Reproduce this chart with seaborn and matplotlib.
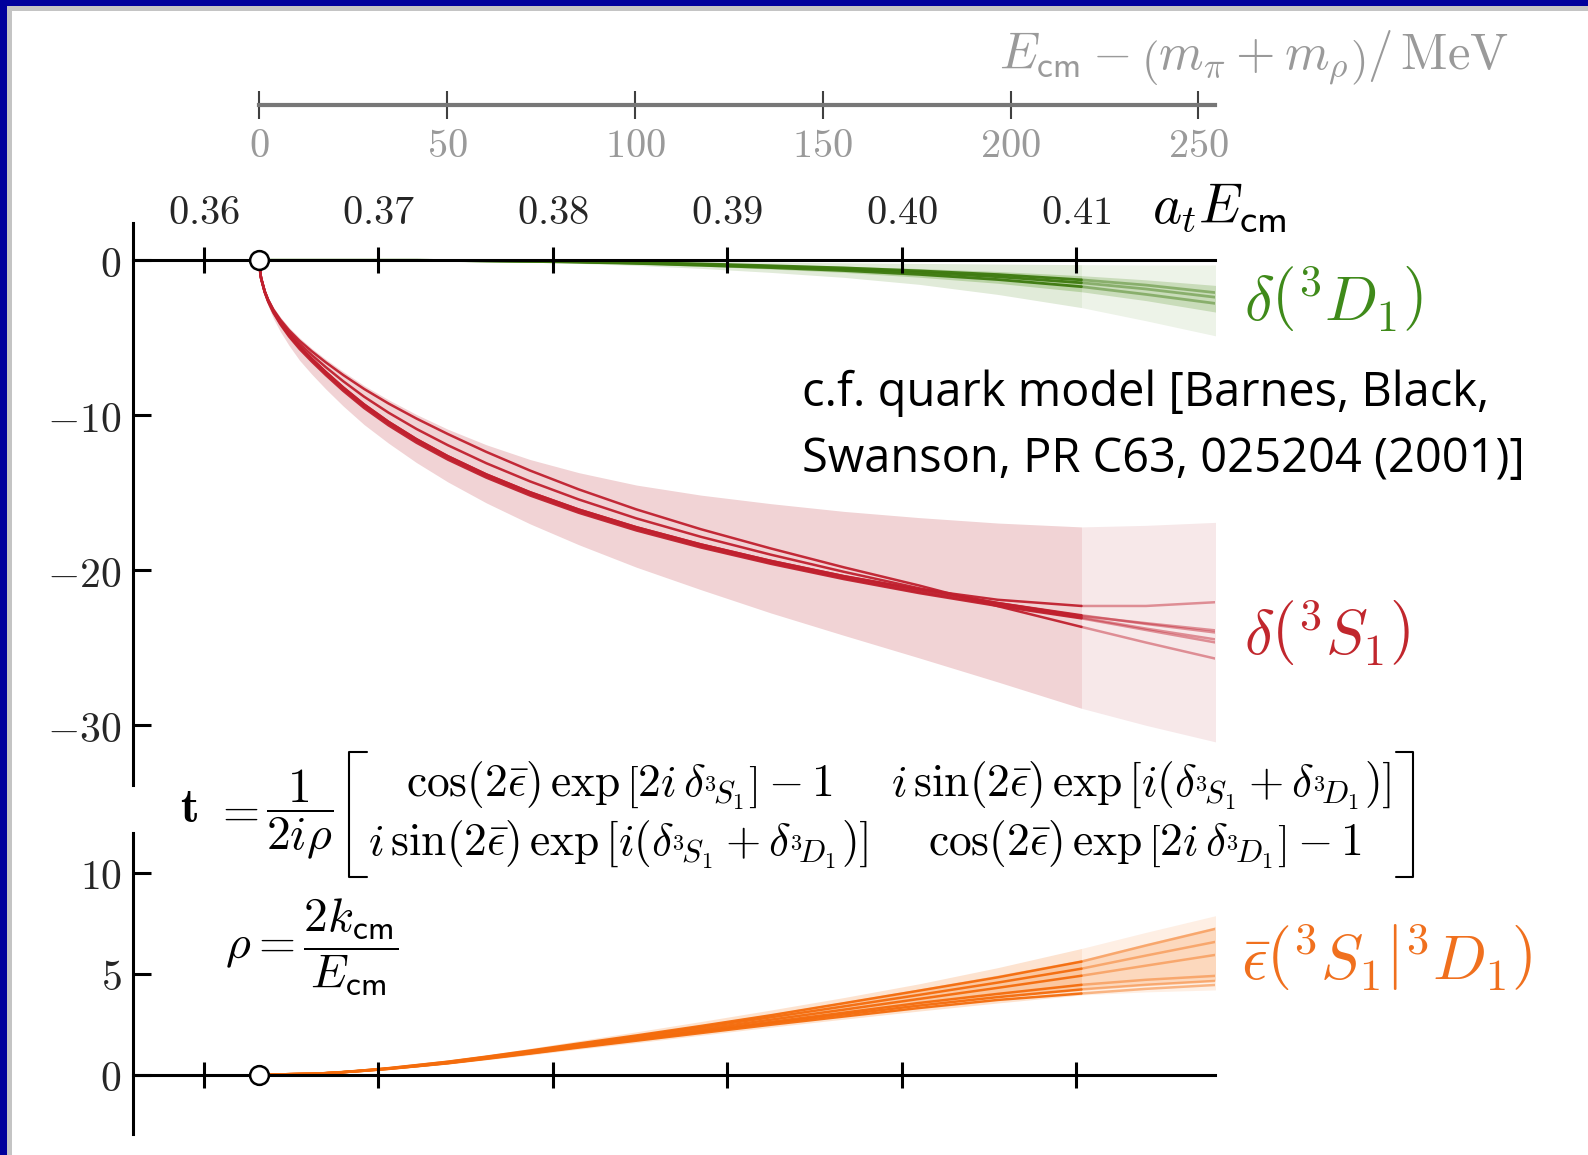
import numpy as np
import matplotlib
matplotlib.use("Agg")
import matplotlib.pyplot as plt
from matplotlib.lines import Line2D
from matplotlib.patches import Rectangle
import seaborn as sns

# ---------------- data ----------------
energy = [0.3632, 0.36325, 0.3633, 0.3635, 0.3637, 0.3640, 0.3644, 0.3649, 0.3655, 0.3662,
          0.3670, 0.3680, 0.3692, 0.3706, 0.3722, 0.3740, 0.3762, 0.3787, 0.3815, 0.3848,
          0.3885, 0.3925, 0.3967, 0.4010, 0.4055, 0.4103, 0.4140, 0.4181]
threshold = 0.3632
fit_edge = 0.4103
mev_per_at = 4646.7

at_ticks = [0.36, 0.37, 0.38, 0.39, 0.40, 0.41]
at_labels = ["0.36", "0.37", "0.38", "0.39", "0.40", "0.41"]
mev_ticks = [0, 50, 100, 150, 200, 250]
mev_labels = ["0", "50", "100", "150", "200", "250"]
top_yticks = [0, -10, -20, -30]
bot_yticks = [0, 5, 10]

# delta(3S1) in degrees
s1_a = [0, -0.82, -1.16, -1.98, -2.54, -3.18, -3.83, -4.51, -5.19, -5.87, -6.58, -7.4, -8.3, -9.24,
        -10.21, -11.21, -12.36, -13.56, -14.78, -16.07, -17.35, -18.59, -19.81, -20.98, -22.31, -23.65, -24.66, -25.73]
s1_b = [0, -0.82, -1.16, -1.99, -2.57, -3.23, -3.92, -4.65, -5.38, -6.11, -6.89, -7.8, -8.8, -9.83,
        -10.88, -11.93, -13.09, -14.26, -15.43, -16.65, -17.84, -18.99, -20.1, -21.16, -22.11, -22.95, -23.41, -23.89]
s1_c = [0, -0.82, -1.16, -2.0, -2.59, -3.28, -4.01, -4.78, -5.56, -6.35, -7.2, -8.2, -9.3, -10.42,
        -11.54, -12.64, -13.81, -14.96, -16.08, -17.22, -18.33, -19.39, -20.38, -21.22, -21.9, -22.3, -22.3, -22.05]
s1_d = [0, -0.82, -1.16, -2.0, -2.59, -3.28, -4.01, -4.78, -5.56, -6.35, -7.2, -8.2, -9.3, -10.42,
        -11.54, -12.64, -13.81, -14.96, -16.08, -17.22, -18.33, -19.39, -20.38, -21.28, -22.11, -22.9, -23.46, -24.03]
s1_e = [0, -0.83, -1.18, -2.03, -2.63, -3.33, -4.07, -4.85, -5.64, -6.44, -7.3, -8.31, -9.42, -10.54,
        -11.66, -12.76, -13.93, -15.08, -16.2, -17.34, -18.45, -19.51, -20.5, -21.4, -22.23, -23.05, -23.76, -24.48]
s1_f = [0, -0.84, -1.2, -2.06, -2.67, -3.38, -4.13, -4.92, -5.72, -6.53, -7.4, -8.42, -9.53, -10.65,
        -11.77, -12.86, -14.02, -15.17, -16.29, -17.43, -18.53, -19.58, -20.57, -21.47, -22.3, -23.1, -23.85, -24.68]
s1_band_hi = [0, -0.75, -1.08, -1.88, -2.42, -3.03, -3.66, -4.33, -5.0, -5.68, -6.38, -7.18, -8.08, -9.0,
              -9.95, -10.9, -11.9, -12.85, -13.7, -14.5, -15.15, -15.7, -16.2, -16.6, -16.95, -17.2, -17.1, -16.9]
s1_band_lo = [0, -0.95, -1.35, -2.3, -2.95, -3.75, -4.6, -5.5, -6.45, -7.35, -8.3, -9.4, -10.6, -11.8,
              -13.05, -14.3, -15.65, -17.0, -18.35, -19.8, -21.25, -22.75, -24.2, -25.65, -27.2, -28.9, -30.0, -31.1]

# delta(3D1) in degrees
d1_a = [0, 0, 0, 0, 0, 0, 0, 0, 0, 0, 0, 0, 0, 0, 0,
        -0.01, -0.03, -0.06, -0.1, -0.17, -0.27, -0.4, -0.56, -0.78, -1.06, -1.45, -1.85, -2.4]
d1_b = [0, 0, 0, 0, 0, 0, 0, 0, 0, 0, 0, 0, 0, 0, 0,
        -0.01, -0.04, -0.07, -0.12, -0.2, -0.32, -0.47, -0.66, -0.91, -1.24, -1.7, -2.2, -2.8]
d1_c = [0, 0, 0, 0, 0, 0, 0, 0, 0, 0, 0, 0, 0, 0, 0,
        -0.01, -0.03, -0.05, -0.09, -0.15, -0.23, -0.35, -0.49, -0.68, -0.92, -1.26, -1.6, -2.1]
d1_in_hi = [0, 0, 0, 0, 0, 0, 0, 0, 0, 0, 0, 0, 0, 0, 0,
            -0.01, -0.02, -0.04, -0.07, -0.12, -0.18, -0.27, -0.38, -0.53, -0.72, -0.99, -1.26, -1.63]
d1_in_lo = [0, 0, 0, 0, 0, 0, 0, 0, 0, 0, 0, 0, 0, 0, 0,
            -0.01, -0.04, -0.08, -0.14, -0.24, -0.38, -0.56, -0.78, -1.09, -1.48, -2.03, -2.6, -3.36]
d1_out_hi = [0, 0, 0, 0, 0, 0, 0, 0, 0, 0, 0, 0, 0, 0, 0,
             0, -0.01, -0.02, -0.03, -0.05, -0.08, -0.12, -0.16, -0.2, -0.24, -0.28, -0.3, -0.3]
d1_out_lo = [0, 0, 0, 0, 0, 0, 0, 0, 0, 0, 0, 0, 0, 0, 0,
             -0.02, -0.06, -0.12, -0.2, -0.33, -0.52, -0.78, -1.1, -1.55, -2.2, -3.05, -3.9, -4.9]

# mixing angle epsilon-bar in degrees
ep_a = [0, 0, 0, 0, 0, 0.01, 0.01, 0.02, 0.03, 0.04, 0.07, 0.13, 0.21, 0.32,
        0.47, 0.64, 0.89, 1.19, 1.54, 1.94, 2.41, 2.94, 3.54, 4.16, 4.82, 5.6, 6.4, 7.25]
ep_b = [0, 0, 0, 0, 0, 0.01, 0.01, 0.02, 0.03, 0.04, 0.07, 0.12, 0.21, 0.31,
        0.46, 0.63, 0.87, 1.16, 1.5, 1.89, 2.34, 2.84, 3.38, 3.95, 4.56, 5.25, 5.9, 6.6]
ep_c = [0, 0, 0, 0, 0, 0.01, 0.01, 0.02, 0.03, 0.04, 0.07, 0.12, 0.2, 0.3,
        0.44, 0.6, 0.84, 1.12, 1.45, 1.82, 2.25, 2.72, 3.22, 3.75, 4.3, 4.9, 5.4, 5.95]
ep_d = [0, 0, 0, 0, 0, 0.01, 0.01, 0.02, 0.03, 0.04, 0.07, 0.12, 0.19, 0.29,
        0.42, 0.58, 0.81, 1.08, 1.4, 1.76, 2.17, 2.61, 3.07, 3.55, 4.0, 4.45, 4.7, 4.9]
ep_e = [0, 0, 0, 0, 0, 0.01, 0.01, 0.02, 0.03, 0.04, 0.07, 0.12, 0.19, 0.29,
        0.42, 0.57, 0.8, 1.06, 1.37, 1.72, 2.12, 2.55, 2.98, 3.42, 3.84, 4.22, 4.45, 4.65]
ep_f = [0, 0, 0, 0, 0, 0.01, 0.01, 0.02, 0.03, 0.04, 0.07, 0.12, 0.19, 0.28,
        0.41, 0.56, 0.78, 1.04, 1.34, 1.68, 2.06, 2.47, 2.88, 3.3, 3.7, 4.02, 4.25, 4.45]
ep_in_hi = [0, 0, 0, 0, 0, 0.01, 0.01, 0.02, 0.03, 0.04, 0.07, 0.13, 0.22, 0.33,
            0.48, 0.66, 0.91, 1.22, 1.58, 1.99, 2.47, 3.01, 3.62, 4.25, 4.93, 5.7, 6.5, 7.35]
ep_in_lo = [0, 0, 0, 0, 0, 0.01, 0.01, 0.02, 0.03, 0.04, 0.07, 0.12, 0.19, 0.29,
            0.42, 0.57, 0.8, 1.06, 1.37, 1.72, 2.12, 2.55, 2.98, 3.42, 3.84, 4.22, 4.45, 4.65]
ep_out_hi = [0, 0, 0, 0, 0, 0.01, 0.01, 0.02, 0.03, 0.05, 0.08, 0.14, 0.23, 0.35,
             0.51, 0.7, 0.97, 1.3, 1.68, 2.12, 2.63, 3.2, 3.82, 4.5, 5.3, 6.25, 7.05, 7.9]
ep_out_lo = [0, 0, 0, 0, 0, 0.01, 0.01, 0.02, 0.03, 0.03, 0.06, 0.1, 0.17, 0.26,
             0.38, 0.52, 0.73, 0.97, 1.26, 1.58, 1.95, 2.35, 2.75, 3.15, 3.55, 3.95, 4.1, 4.2]

# ---------------- style ----------------
sns.set_style("white")
plt.rcParams["mathtext.fontset"] = "cm"
plt.rcParams["font.family"] = ["DejaVu Sans"]

RED, RED_IN, RED_EX = "#c0202e", "#f1d3d5", "#f7e8e9"
GRN, GRN_IN, GRN_EX = "#3d7a0e", "#b9d3a5", "#e1ebd9"
GRN_IN2, GRN_EX2 = "#c9dcba", "#edf3e8"
ORG, ORG_IN, ORG_EX = "#f46c0c", "#fbc7a0", "#fde3d0"
ORG_IN2, ORG_EX2 = "#fcd8bd", "#feefe4"

W, H = 1588, 1155
fig = plt.figure(figsize=(W / 100, H / 100), dpi=100)
fig.patch.set_facecolor("white")


def fx(p):
    return p / W


def fy(p):
    return 1 - p / H


L, R = 132.7, 1215
ax1 = fig.add_axes([fx(L), fy(785), fx(R) - fx(L), fy(222.8) - fy(785)])
ax2 = fig.add_axes([fx(L), fy(1134.3), fx(R) - fx(L), fy(832.5) - fy(1134.3)])
xlim = (0.35594, 0.41795)

e = np.array(energy)
k = energy.index(fit_edge)


def band(ax, lo, hi, c_in, c_ex, z=1):
    lo, hi = np.array(lo), np.array(hi)
    ax.fill_between(e[:k + 1], lo[:k + 1], hi[:k + 1], color=c_in, lw=0, zorder=z)
    ax.fill_between(e[k:], lo[k:], hi[k:], color=c_ex, lw=0, zorder=z)


def curves(ax, ys, color, lw):
    for y in ys:
        y = np.array(y)
        sns.lineplot(x=e[:k + 1], y=y[:k + 1], ax=ax, color=color, lw=lw, alpha=0.95,
                     legend=False, estimator=None, sort=False, zorder=2)
        sns.lineplot(x=e[k:], y=y[k:], ax=ax, color=color, lw=lw, alpha=0.45,
                     legend=False, estimator=None, sort=False, zorder=2)


# top panel
band(ax1, s1_band_lo, s1_band_hi, RED_IN, RED_EX)
curves(ax1, [s1_a, s1_b, s1_c, s1_d, s1_e, s1_f], RED, 1.8)
band(ax1, d1_out_lo, d1_out_hi, GRN_EX, GRN_EX2)
band(ax1, d1_in_lo, d1_in_hi, GRN_IN, GRN_IN2)
curves(ax1, [d1_a, d1_b, d1_c], GRN, 2.0)

# bottom panel
band(ax2, ep_out_lo, ep_out_hi, ORG_EX, ORG_EX2)
band(ax2, ep_in_lo, ep_in_hi, ORG_IN, ORG_IN2)
curves(ax2, [ep_a, ep_b, ep_c, ep_d, ep_e, ep_f], ORG, 1.8)

ax1.set_ylim(-33.85, 2.42)
ax2.set_ylim(-2.96, 12.0)
for ax, yt in ((ax1, top_yticks), (ax2, bot_yticks)):
    ax.set_xlim(*xlim)
    ax.set_facecolor("none")
    ax.set_xlabel("")
    ax.set_ylabel("")
    ax.spines["right"].set_visible(False)
    ax.plot([threshold], [0], "o", ms=13.5, mfc="white", mec="black", mew=1.8,
            zorder=6, clip_on=False)
    ax.set_yticks(yt)
    ax.set_yticklabels([r"$%d$" % v if v >= 0 else r"$-%d$" % -v for v in yt])
    ax.tick_params(axis="y", left=True, direction="in", length=13, width=2.2, pad=8,
                   labelsize=30, color="black")
    ax.spines["left"].set_linewidth(2.2)
    ax.spines["left"].set_color("black")
    ax.xaxis.set_zorder(4)
    ax.yaxis.set_zorder(4)

ax1.spines["bottom"].set_visible(False)
ax1.spines["top"].set_position(("data", 0))
ax1.spines["top"].set_linewidth(2.2)
ax1.spines["top"].set_color("black")
ax1.spines["top"].set_zorder(3)
ax1.xaxis.set_ticks_position("top")
ax1.set_xticks(at_ticks)
ax1.set_xticklabels([r"$%s$" % s for s in at_labels])
ax1.tick_params(axis="x", top=True, bottom=False, direction="inout", length=19, width=2.2,
                pad=10, labelsize=29, color="black")

ax2.spines["top"].set_visible(False)
ax2.spines["bottom"].set_position(("data", 0))
ax2.spines["bottom"].set_linewidth(2.2)
ax2.spines["bottom"].set_color("black")
ax2.spines["bottom"].set_zorder(3)
ax2.set_xticks(at_ticks)
ax2.set_xticklabels([])
ax2.tick_params(axis="x", bottom=True, top=False, direction="inout", length=19, width=2.2,
                color="black")

# MeV axis
ax3 = fig.add_axes([fx(L), fy(105.3), fx(R) - fx(L), 0.0001])
mev_lim = ((xlim[0] - threshold) * mev_per_at, (xlim[1] - threshold) * mev_per_at)
ax3.set_xlim(*mev_lim)
ax3.patch.set_visible(False)
for s in ("top", "left", "right"):
    ax3.spines[s].set_visible(False)
ax3.spines["bottom"].set_bounds(0, mev_lim[1])
ax3.spines["bottom"].set_color("#777777")
ax3.spines["bottom"].set_linewidth(3)
ax3.set_yticks([])
ax3.set_xticks(mev_ticks)
ax3.set_xticklabels([r"$%s$" % s for s in mev_labels])
ax3.tick_params(axis="x", bottom=True, direction="inout", length=20, width=1.5, color="#404040",
                labelcolor="#9a9a9a", labelsize=29, pad=5)

renderer = fig.canvas.get_renderer()


def fit(t, width_px):
    bb = t.get_window_extent(renderer=renderer)
    t.set_fontsize(t.get_fontsize() * width_px / bb.width)
    return t


fit(fig.text(fx(1509), fy(58), r"$E_{\mathsf{cm}} - \left(m_\pi + m_\rho\right)/\,\mathrm{MeV}$",
             ha="right", va="center", fontsize=34, color="#9a9a9a"), 511)
fit(fig.text(fx(1151.5), fy(208), r"$a_t E_{\mathsf{cm}}$", ha="left", va="center",
             fontsize=33, color="black"), 135)

fit(fig.text(fx(1243.7), fy(298.8), r"$\delta\left({}^3D_1\right)$", ha="left", va="center",
             fontsize=36, color="#3f8a1a"), 179)
fit(fig.text(fx(1243.7), fy(633), r"$\delta\left({}^3S_1\right)$", ha="left", va="center",
             fontsize=36, color="#c1272d"), 166)
fit(fig.text(fx(1240.7), fy(957), r"$\bar{\epsilon}\left({}^3S_1\right|\left.{}^3D_1\right)$",
             ha="left", va="center", fontsize=36, color="#f0701e"), 291)

q2 = fit(fig.text(fx(802), fy(459), "Swanson, PR C63, 025204 (2001)]", ha="left", va="center",
                  fontsize=28, color="black", family="Open Sans"), 722)
fig.text(fx(802), fy(393), "c.f. quark model [Barnes, Black,", ha="left", va="center",
         fontsize=q2.get_fontsize(), color="black", family="Open Sans")

e11 = fig.text(fx(619.8), fy(797), r"$\cos(2\bar{\epsilon})\,\exp\left[2i\,\delta_{{}^3\!S_1}\right] - 1$",
               ha="center", va="baseline", fontsize=24, color="black")
fit(e11, 430)
fs = e11.get_fontsize()
mix = r"$i\,\sin(2\bar{\epsilon})\,\exp\left[i(\delta_{{}^3\!S_1} + \delta_{{}^3\!D_1})\right]$"
fig.text(fx(1141.4), fy(797), mix, ha="center", va="baseline", fontsize=fs, color="black")
fig.text(fx(617.8), fy(855.8), mix, ha="center", va="baseline", fontsize=fs, color="black")
fig.text(fx(1144.5), fy(855.8), r"$\cos(2\bar{\epsilon})\,\exp\left[2i\,\delta_{{}^3\!D_1}\right] - 1$",
         ha="center", va="baseline", fontsize=fs, color="black")
fig.text(fx(189.4), fy(821.7), r"$\mathbf{t}$", ha="center", va="baseline", fontsize=fs * 1.05,
         color="black")
fig.text(fx(236), fy(812.7), r"$=$", ha="center", va="center", fontsize=fs * 1.05, color="black")
fig.text(fx(299.8), fy(815), r"$\dfrac{1}{2i\rho}$", ha="center", va="center", fontsize=fs * 1.05,
         color="black")
fig.text(fx(224.8), fy(947), r"$\rho = \dfrac{2k_{\mathsf{cm}}}{E_{\mathsf{cm}}}$", ha="left",
         va="center", fontsize=fs * 1.05, color="black")

# matrix brackets
for xs, ys in (([366.6, 349.4, 349.4, 366.6], [751.5, 751.5, 877, 877]),
               ([1395.6, 1412.9, 1412.9, 1395.6], [751.5, 751.5, 877, 877])):
    fig.add_artist(Line2D([fx(v) for v in xs], [fy(v) for v in ys], color="black", lw=1.5,
                          transform=fig.transFigure))

# slide border (top and left)
fig.add_artist(Rectangle((fx(7), fy(11)), 1, 5 / H, transform=fig.transFigure,
                         color="#c4c4c4", lw=0))
fig.add_artist(Rectangle((fx(7), 0), 5 / W, 1 - 6 / H, transform=fig.transFigure,
                         color="#c4c4c4", lw=0))
fig.add_artist(Rectangle((0, fy(6)), 1, 6 / H, transform=fig.transFigure, color="#00009c", lw=0))
fig.add_artist(Rectangle((0, 0), 7 / W, 1, transform=fig.transFigure, color="#00009c", lw=0))

fig.savefig("out.png", dpi=100)
